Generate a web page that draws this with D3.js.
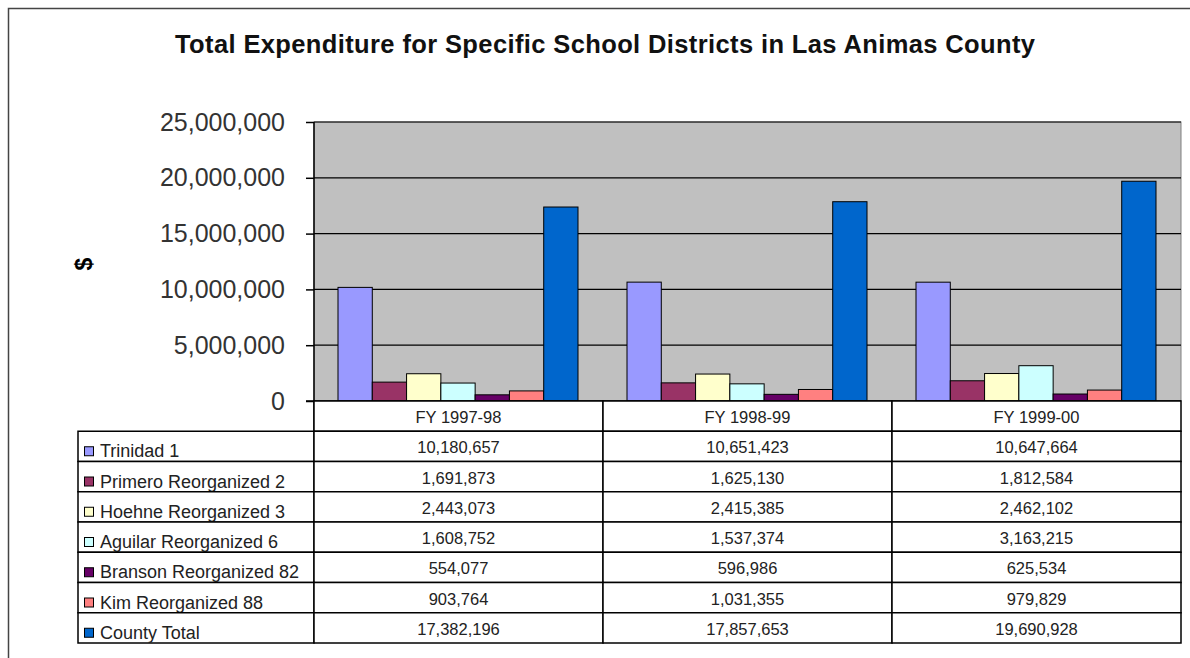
<!DOCTYPE html>
<html>
<head>
<meta charset="utf-8">
<script src="https://d3js.org/d3.v7.min.js"></script>
<style>
html,body{margin:0;padding:0;background:#fff;}
svg{display:block;font-family:Arial,"Liberation Sans",sans-serif;}
</style>
</head>
<body>
<svg id="chart" width="1190" height="658"></svg>
<script>
const title = "Total Expenditure for Specific School Districts in Las Animas County";
const yAxisLabel = "$";
const categories = ["FY 1997-98", "FY 1998-99", "FY 1999-00"];
const seriesNames = ["Trinidad 1", "Primero Reorganized 2", "Hoehne Reorganized 3", "Aguilar Reorganized 6", "Branson Reorganized 82", "Kim Reorganized 88", "County Total"];
const trinidad = [10180657, 10651423, 10647664];
const primero = [1691873, 1625130, 1812584];
const hoehne = [2443073, 2415385, 2462102];
const aguilar = [1608752, 1537374, 3163215];
const branson = [554077, 596986, 625534];
const kim = [903764, 1031355, 979829];
const countyTotal = [17382196, 17857653, 19690928];
const seriesColors = ["#9999FF", "#993366", "#FFFFCC", "#CCFFFF", "#660066", "#FF8080", "#0066CC"];
const yTicks = [0, 5000000, 10000000, 15000000, 20000000, 25000000];

const seriesValues = [trinidad, primero, hoehne, aguilar, branson, kim, countyTotal];

const svg = d3.select("#chart");
const fmt = d3.format(",");

// outer frame
svg.append("path").attr("d", "M8.5,658 L8.5,8.5 L1190,8.5").attr("fill", "none").attr("stroke", "#444").attr("stroke-width", 1.5);

// title
svg.append("text").attr("x", 605).attr("y", 53).attr("text-anchor", "middle")
  .attr("font-size", 25.5).attr("font-weight", "bold").attr("fill", "#111")
  .attr("textLength", 860).attr("lengthAdjust", "spacing").text(title);

const plotL = 314, plotR = 1181, plotT = 122, plotB = 401;
const x = d3.scaleBand().domain(categories).range([plotL, plotR]).padding(0);
const y = d3.scaleLinear().domain([0, 25000000]).range([plotB, plotT]);
const xs = d3.scaleBand().domain(seriesNames).range([24, x.bandwidth() - 25]).padding(0);

// plot area
svg.append("rect").attr("x", plotL).attr("y", plotT).attr("width", plotR - plotL).attr("height", plotB - plotT)
  .attr("fill", "#C0C0C0").attr("stroke", "#808080").attr("stroke-width", 1);

// gridlines
svg.append("g").selectAll("line").data(yTicks.filter(d => d > 0)).join("line")
  .attr("x1", plotL).attr("x2", plotR).attr("y1", d => y(d)).attr("y2", d => y(d))
  .attr("stroke", "#000").attr("stroke-width", 1.2);

// bars
const g = svg.append("g");
seriesNames.forEach((s, i) => {
  g.append("g").selectAll("rect").data(categories).join("rect")
    .attr("x", c => x(c) + xs(s))
    .attr("y", (c, j) => y(seriesValues[i][j]))
    .attr("width", xs.bandwidth())
    .attr("height", (c, j) => plotB - y(seriesValues[i][j]))
    .attr("fill", seriesColors[i])
    .attr("stroke", "#000").attr("stroke-width", 1);
});

// y axis
const yAxis = d3.axisLeft(y).tickValues(yTicks).tickFormat(fmt).tickSize(8).tickPadding(21);
const ya = svg.append("g").attr("transform", `translate(${plotL},0)`).call(yAxis);
ya.select(".domain").remove();
ya.selectAll(".tick line").attr("stroke", "#000").attr("stroke-width", 1.5);
ya.selectAll(".tick text").attr("font-size", 25).attr("fill", "#333").attr("font-family", "Arial, 'Liberation Sans', sans-serif");
svg.append("line").attr("x1", plotL).attr("x2", plotL).attr("y1", plotT).attr("y2", 433).attr("stroke", "#000").attr("stroke-width", 1.5);
svg.append("line").attr("x1", 306).attr("x2", plotR).attr("y1", plotB).attr("y2", plotB).attr("stroke", "#000").attr("stroke-width", 1.5);

// y label
svg.append("text").attr("transform", "translate(92,264) rotate(-90)").attr("text-anchor", "middle")
  .attr("font-size", 23).attr("font-weight", "bold").attr("fill", "#000").text(yAxisLabel);

// data table
const tableL = 78;
const rowY = d3.scaleBand().domain(["header"].concat(seriesNames)).range([401, 643]).padding(0);
const rowH = rowY.bandwidth();
const tg = svg.append("g");
// header cells
tg.append("g").selectAll("rect").data(categories).join("rect")
  .attr("x", c => x(c)).attr("y", rowY("header")).attr("width", x.bandwidth()).attr("height", rowH)
  .attr("fill", "#fff").attr("stroke", "#000").attr("stroke-width", 1.5);
tg.append("g").selectAll("text").data(categories).join("text")
  .attr("x", c => x(c) + x.bandwidth() / 2).attr("y", rowY("header") + 22)
  .attr("text-anchor", "middle").attr("font-size", 16.5).attr("fill", "#222").text(c => c);
// series rows
seriesNames.forEach((s, i) => {
  const ry = rowY(s);
  tg.append("rect").attr("x", tableL).attr("y", ry).attr("width", plotL - tableL).attr("height", rowH)
    .attr("fill", "#fff").attr("stroke", "#000").attr("stroke-width", 1.5);
  tg.append("rect").attr("x", 84.5).attr("y", ry + 15.5).attr("width", 9).attr("height", 9)
    .attr("fill", seriesColors[i]).attr("stroke", "#000").attr("stroke-width", 1);
  tg.append("text").attr("x", 100).attr("y", ry + 26).attr("font-size", 18).attr("fill", "#222").text(s);
  tg.append("g").selectAll("rect").data(categories).join("rect")
    .attr("x", c => x(c)).attr("y", ry).attr("width", x.bandwidth()).attr("height", rowH)
    .attr("fill", "#fff").attr("stroke", "#000").attr("stroke-width", 1.5);
  tg.append("g").selectAll("text").data(categories).join("text")
    .attr("x", c => x(c) + x.bandwidth() / 2).attr("y", ry + 22)
    .attr("text-anchor", "middle").attr("font-size", 16.5).attr("fill", "#222")
    .text((c, j) => fmt(seriesValues[i][j]));
});
</script>
</body>
</html>
